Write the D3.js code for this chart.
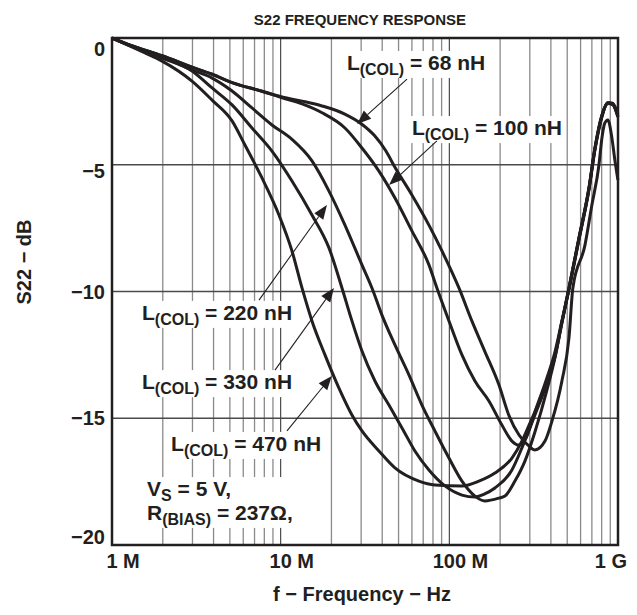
<!DOCTYPE html>
<html>
<head>
<meta charset="utf-8">
<script src="https://cdn.jsdelivr.net/npm/d3@7"></script>
<style>
  body { margin: 0; background: #fff; }
  text { font-family: "Liberation Sans", Arial, Helvetica, sans-serif; font-weight: bold; fill: #231f20; }
</style>
</head>
<body>
<div id="chart"></div>
<script>
// S22 vs frequency, [MHz, dB]
var l68 = [[1,0],[1.31,-0.3],[1.98,-0.7],[2.98,-1.15],[3.92,-1.43],[5.15,-1.76],[7.75,-2.1],[10.2,-2.33],[13.4,-2.49],[17.6,-2.68],[24,-3.0],[30.3,-3.4],[36,-3.85],[42,-4.45],[47.6,-5.1],[60,-6.19],[75.7,-7.38],[90.4,-8.4],[114,-9.86],[136,-11.16],[162,-12.35],[197,-13.69],[225,-14.87],[259,-15.66],[296,-16.09],[322,-16.25],[369,-15.9],[406,-15.11],[465,-13.53],[512,-11.83],[540,-9.86],[637,-8.17],[700,-6.59],[771,-5.01],[803,-3.94],[836,-3.35],[871,-3.23],[920,-3.94],[958,-4.81],[999,-5.6]];
var l100 = [[1,0],[1.31,-0.3],[1.98,-0.7],[2.98,-1.15],[3.92,-1.43],[5.15,-1.76],[7.75,-2.1],[10.2,-2.36],[13.4,-2.6],[17.6,-2.95],[24.05,-3.55],[30.34,-4.34],[38.25,-5.25],[47.6,-6.31],[60,-7.61],[75.7,-8.95],[84.4,-9.86],[99.5,-11.16],[118.8,-12.5],[141.8,-13.53],[171.7,-14.32],[205,-15.27],[235,-15.9],[258.6,-16.06],[284.4,-15.78],[321.7,-14.75],[378.9,-13.41],[422.7,-12.39],[465.1,-11.16],[511.7,-9.94],[586.5,-7.97],[672.3,-6.0],[729.7,-4.42],[802.7,-3.12],[859,-2.6],[920,-2.56],[999,-3.0]];
var l220 = [[1,0],[1.31,-0.32],[1.98,-0.75],[2.98,-1.26],[3.92,-1.58],[5.15,-2.09],[6.76,-2.76],[8.88,-3.43],[11.67,-4.0],[15.33,-4.85],[19.34,-6.04],[24.05,-7.38],[30.34,-8.95],[34.77,-9.86],[39.86,-10.93],[47.6,-12.11],[57.6,-13.29],[68.8,-14.48],[82.1,-15.5],[99.5,-16.57],[118.8,-17.48],[141.8,-18.07],[162.5,-18.26],[196.8,-18.15],[213.6,-18.07],[244.9,-17.48],[280.6,-16.69],[321.7,-15.54],[378.9,-13.89],[422.7,-12.62],[465.1,-11.24],[511.7,-9.9],[586.5,-7.93],[672.3,-5.96],[729.7,-4.38],[802.7,-3.08],[871.3,-2.56],[932.6,-2.64],[999,-3.12]];
var l330 = [[1,0],[1.31,-0.33],[1.98,-0.79],[2.98,-1.3],[3.92,-1.97],[5.15,-2.64],[6.76,-3.55],[8.88,-4.46],[11.67,-5.64],[15.33,-6.98],[19.34,-8.28],[23.09,-9.86],[26.46,-11.16],[30.34,-12.35],[36.22,-13.53],[43.85,-14.48],[52.4,-15.38],[62.5,-16.29],[75.7,-17.04],[94.2,-17.67],[118.8,-18.03],[141.8,-18.11],[160,-18.0],[186.3,-17.75],[235,-17.04],[269.4,-16.17],[321.7,-14.87],[378.9,-13.61],[422.7,-12.54],[465.1,-11.2],[511.7,-9.88],[586.5,-7.91],[672.3,-5.94],[729.7,-4.36],[802.7,-3.06],[871.3,-2.58],[932.6,-2.62],[999,-3.1]];
var l470 = [[1,0],[1.31,-0.35],[1.57,-0.59],[1.98,-0.91],[2.98,-1.7],[3.92,-2.45],[5.15,-3.27],[6.14,-4.22],[7.75,-5.52],[9.77,-6.98],[11.67,-8.4],[13.38,-9.86],[15.33,-11.16],[18.31,-12.5],[22.16,-13.81],[26.46,-14.87],[30.34,-15.5],[38.25,-16.29],[47.6,-16.96],[66,-17.48],[82.1,-17.63],[118.8,-17.67],[149.8,-17.48],[186.3,-17.16],[235,-16.57],[269.4,-15.9],[300.6,-15.19],[358.8,-14.0],[422.7,-12.58],[465.1,-11.2],[511.7,-9.86],[586.5,-7.89],[672.3,-5.92],[729.7,-4.34],[802.7,-3.04],[871.3,-2.54],[932.6,-2.6],[999,-3.08]];

var curves = [l68, l100, l220, l330, l470];

var xTicks = [1, 10, 100, 1000];
var xTickNums = ["1", "10", "100", "1"];
var xTickUnits = [" M", " M", " M", " G"];
var yTicks = [0, -5, -10, -15, -20];
var yTickLabels = ["0", "\u22125", "\u221210", "\u221215", "\u221220"];
var yGrid = [-5, -10, -15];

// callouts: text anchor, arrow start, arrow tip (all in MHz / dB)
var callouts = [
  {main: "L", sub: "(COL)", rest: " = 68 nH",  at: [24.7, -1.26],  from: [56.1, -1.62], to: [28.4, -3.39]},
  {main: "L", sub: "(COL)", rest: " = 100 nH", at: [60.0, -3.83],  from: [84.4, -4.06], to: [43.9, -5.8]},
  {main: "L", sub: "(COL)", rest: " = 220 nH", at: [1.506, -11.12], from: [7.44, -10.34], to: [18.8, -6.59]},
  {main: "L", sub: "(COL)", rest: " = 330 nH", at: [1.506, -13.85], from: [9.25, -13.1],  to: [20.7, -9.86]},
  {main: "L", sub: "(COL)", rest: " = 470 nH", at: [2.24, -16.29],  from: [10.9, -15.5],  to: [20.1, -13.33]}
];
var conditions = [
  {main: "V", sub: "S", rest: " = 5 V,", at: [1.613, -18.07]},
  {main: "R", sub: "(BIAS)", rest: " = 237\u03a9,", at: [1.613, -19.01]}
];

var width = 637, height = 615;
var plotLeft = 112, plotRight = 618, plotTop = 38, plotBottom = 545;

var svg = d3.select("#chart").append("svg")
  .attr("width", width)
  .attr("height", height);

var x = d3.scaleLog().domain([1, 1000]).range([plotLeft, plotRight]);
var y = d3.scaleLinear().domain([-20, 0]).range([plotBottom, plotTop]);

// grid
var minor = [];
[1, 10, 100].forEach(function(d) {
  for (var m = 2; m <= 9; m++) minor.push(m * d);
});
var grid = svg.append("g");
grid.selectAll(".minor")
  .data(minor)
  .enter().append("line")
  .attr("x1", d => x(d)).attr("x2", d => x(d))
  .attr("y1", plotTop).attr("y2", plotBottom)
  .style("stroke", "#8a8a8a")
  .style("stroke-width", 1.3);
grid.selectAll(".major")
  .data([10, 100])
  .enter().append("line")
  .attr("x1", d => x(d)).attr("x2", d => x(d))
  .attr("y1", plotTop).attr("y2", plotBottom)
  .style("stroke", "#3a3a3a")
  .style("stroke-width", 1.1);
grid.selectAll(".hgrid")
  .data(yGrid)
  .enter().append("line")
  .attr("x1", plotLeft).attr("x2", plotRight)
  .attr("y1", d => y(d)).attr("y2", d => y(d))
  .style("stroke", "#4a4a4a")
  .style("stroke-width", 1.3);

// text with a subscript part
function subText(g, d, fs, sfs) {
  var t = g.append("text")
    .attr("x", x(d.at[0]))
    .attr("y", y(d.at[1]))
    .style("font-size", fs + "px");
  t.append("tspan").text(d.main);
  t.append("tspan").attr("dy", 5).style("font-size", sfs + "px").text(d.sub);
  t.append("tspan").attr("dy", -5).text(d.rest);
  return t;
}

// white patches behind labels (they cut the grid)
var boxes = svg.append("g");
var labelLayer = svg.append("g");
function patch(nodes, padX, padY) {
  var x0 = 1e9, y0 = 1e9, x1 = -1e9, y1 = -1e9;
  nodes.forEach(function(n) {
    var b = n.getBBox();
    x0 = Math.min(x0, b.x); y0 = Math.min(y0, b.y);
    x1 = Math.max(x1, b.x + b.width); y1 = Math.max(y1, b.y + b.height);
  });
  boxes.append("rect")
    .attr("x", x0 - padX).attr("y", y0 - padY)
    .attr("width", x1 - x0 + 2 * padX).attr("height", y1 - y0 + 2 * padY)
    .style("fill", "#fff");
}

callouts.forEach(function(d) {
  var t = subText(labelLayer, d, 21, 16);
  patch([t.node()], 3, 0);
});
var condNodes = conditions.map(function(d) { return subText(labelLayer, d, 21, 16).node(); });
patch(condNodes, 3, 0);

// curves
var line = d3.line()
  .x(d => x(d[0]))
  .y(d => y(d[1]))
  .curve(d3.curveMonotoneX);
svg.append("g").selectAll("path")
  .data(curves)
  .enter().append("path")
  .attr("d", line)
  .style("fill", "none")
  .style("stroke", "#231f20")
  .style("stroke-width", 3)
  .style("stroke-linejoin", "round");

// arrows
var arrows = svg.append("g");
callouts.forEach(function(d) {
  var x0 = x(d.from[0]), y0 = y(d.from[1]);
  var x1 = x(d.to[0]), y1 = y(d.to[1]);
  var dx = x1 - x0, dy = y1 - y0, len = Math.sqrt(dx * dx + dy * dy);
  var ux = dx / len, uy = dy / len;
  var hl = 14, hw = 5.5;
  var bx = x1 - ux * hl, by = y1 - uy * hl;
  arrows.append("line")
    .attr("x1", x0).attr("y1", y0).attr("x2", bx).attr("y2", by)
    .style("stroke", "#231f20").style("stroke-width", 1.1);
  arrows.append("polygon")
    .attr("points", [[x1, y1], [bx - uy * hw, by + ux * hw], [bx + uy * hw, by - ux * hw]].join(" "))
    .style("fill", "#231f20");
});
labelLayer.raise();

// frame
svg.append("rect")
  .attr("x", plotLeft).attr("y", plotTop)
  .attr("width", plotRight - plotLeft).attr("height", plotBottom - plotTop)
  .style("fill", "none")
  .style("stroke", "#231f20")
  .style("stroke-width", 2.5);

// x tick labels: number centred on the line, last one kept inside
var xl = svg.append("g");
xTicks.forEach(function(v, i) {
  var t = xl.append("text").attr("y", 568).style("font-size", "20px");
  var num = t.append("tspan").text(xTickNums[i]);
  t.append("tspan").text(xTickUnits[i]);
  if (i === xTicks.length - 1) {
    t.attr("x", x(v) + 9).attr("text-anchor", "end");
  } else {
    t.attr("x", x(v) - num.node().getComputedTextLength() / 2);
  }
});

// y tick labels
var yOffsets = [11, 6, 0, 0, -8];
svg.append("g").selectAll("text")
  .data(yTicks)
  .enter().append("text")
  .attr("x", 105)
  .attr("y", (d, i) => y(d) + yOffsets[i] + 7)
  .attr("text-anchor", "end")
  .style("font-size", "20px")
  .text((d, i) => yTickLabels[i]);

// titles
svg.append("text")
  .attr("x", 360).attr("y", 25)
  .attr("text-anchor", "middle")
  .style("font-size", "15px")
  .text("S22 FREQUENCY RESPONSE");
svg.append("text")
  .attr("x", 362).attr("y", 601)
  .attr("text-anchor", "middle")
  .style("font-size", "20px")
  .text("f \u2212 Frequency \u2212 Hz");
svg.append("text")
  .attr("transform", "translate(31,262) rotate(-90)")
  .attr("text-anchor", "middle")
  .style("font-size", "20px")
  .text("S22 \u2212 dB");
</script>
</body>
</html>
